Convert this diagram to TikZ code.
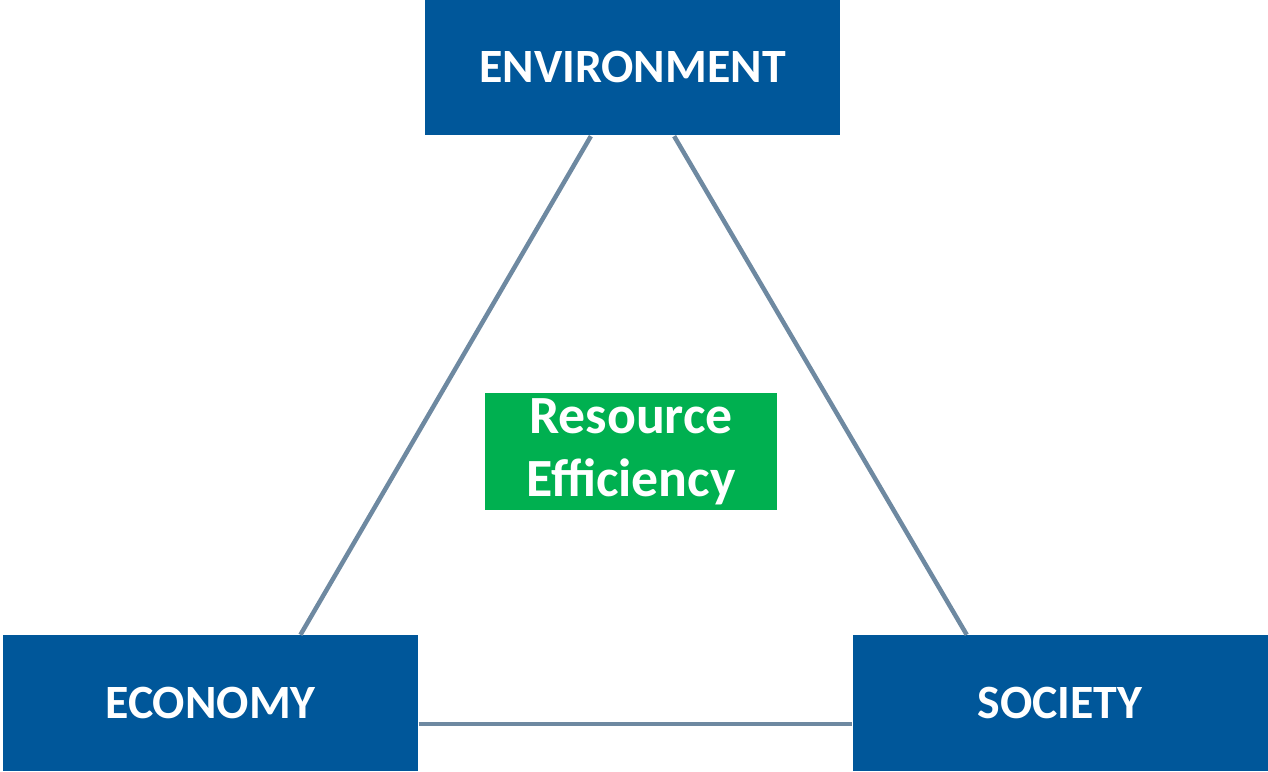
\documentclass[tikz,border=0pt]{standalone}
\usepackage{fontspec}
\setmainfont{Carlito}
\usepackage{xcolor}
\usepackage{tikz}
\usetikzlibrary{calc}
\definecolor{pillarBlue}{RGB}{0,87,154}
\definecolor{coreGreen}{RGB}{0,176,80}
\definecolor{linkGray}{RGB}{110,137,161}
\tikzstyle{tsWhiteBold} = [
    text=white,
    font=\bfseries\fontsize{13.6}{18}\selectfont
]
\tikzstyle{tsBox} = [
    rectangle,
    tsWhiteBold,
    align=center,
    inner sep=0pt
]
\tikzstyle{tsPillar} = [
    tsBox,
    fill=pillarBlue,
    minimum width=4.15cm,
    minimum height=1.36cm
]
\tikzstyle{tsLink} = [
    draw=linkGray,
    line width=0.045cm
]

\begin{document}
\begin{tikzpicture}
        \useasboundingbox (0,0) rectangle (12.68,7.72);

        % Define nodes
        \node[  tsPillar] (env) at (6.325,7.045) {ENVIRONMENT};
        \node[  tsPillar] (eco) at (2.105,0.685) {ECONOMY};
        \node[  tsPillar] (soc) at (10.6,0.685) {SOCIETY};

        \node[  tsBox,
                font=\bfseries\fontsize{15.3}{18}\selectfont,
                minimum width=2.92cm,
                minimum height=1.17cm,
                fill=coreGreen] (re) at (6.31,3.205) {Resource\\Efficiency};

        \draw[tsLink] ($(env.south west)!0.4!(env.south east)$) -- ($(eco.north west)!0.716!(eco.north east)$);
        \draw[tsLink] ($(env.south west)!0.6!(env.south east)$) -- ($(soc.north west)!0.276!(soc.north east)$);
        \draw[tsLink] ($(eco.south east)!0.35!(eco.north east)$) -- ($(soc.south west)!0.35!(soc.north west)$);

    \end{tikzpicture}
\end{document}
